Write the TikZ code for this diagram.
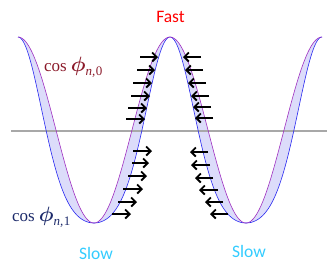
\documentclass[tikz,border=0pt]{standalone}
\usepackage[no-math]{fontspec}
\setmainfont{Carlito}
\newfontfamily\tmsfont{Liberation Serif}
\usetikzlibrary{arrows.meta}
\definecolor{lav}{HTML}{DCDCFA}
\definecolor{purp}{HTML}{A030C0}
\definecolor{bluec}{HTML}{2828F0}
\definecolor{maroon}{HTML}{8B1A2A}
\definecolor{navy}{HTML}{1C2A6A}
\definecolor{slowc}{HTML}{33CCFF}
\definecolor{axisg}{HTML}{A8A8A8}
\tikzset{
  flow/.style={line width=1.8pt,-{Straight Barb[length=4.5pt,width=9pt,line width=1.8pt]}},
  lbl/.style={inner sep=0pt,anchor=base west},
  word/.style={inner sep=0pt,anchor=base,font=\fontsize{17.5}{20}\selectfont}
}
\newcommand{\phlabel}[2]{{\tmsfont\fontsize{17}{20}\selectfont cos\hspace{4pt}}%
  {\fontsize{20}{22}\selectfont\boldmath$\phi$}%
  \raisebox{-4pt}{\tmsfont\fontsize{13}{14}\selectfont\textit{#1,}\hspace{0.5pt}#2}}
\begin{document}
\begin{tikzpicture}[x=1pt,y=-1pt]
\useasboundingbox (0,0) rectangle (327,277);
% band fill (theta in degrees, x = 18 + theta*152/360)
\fill[lav] plot[domain=0:720,samples=240] ({18+\x*0.422222},{130-93*cos(\x)})
  -- plot[domain=720:0,samples=240] ({18+\x*0.422222},{130-93*cos(\x+25.8*sin(\x))}) -- cycle;
% axis line
\draw[axisg,line width=1.3pt] (11,131) -- (327,131);
% curves
\draw[bluec,line width=0.6pt] plot[domain=0:720,samples=240] ({18+\x*0.422222},{130-93*cos(\x+25.8*sin(\x))});
\draw[purp,line width=0.6pt] plot[domain=0:720,samples=240] ({18+\x*0.422222},{130-93*cos(\x)});
% arrows left rising side (pointing right)
\foreach \a/\b/\y in {140/158/57,137/155/70,133/152/83,131/150/96,128/147/108,126/145/119,
                      133/152/151,132/149/163,128/147/176,123/143/189,118/137/202,112/131/214}
  \draw[flow] (\a,\y) -- (\b,\y);
% arrows right falling side (pointing left)
\foreach \a/\b/\y in {201/183/57,203/185/70,206/188/83,209/191/96,211/193/107,213/195/118,
                      208/190/152,210/191/165,213/195/178,218/199/190,223/205/202,228/210/214}
  \draw[flow] (\a,\y) -- (\b,\y);
% labels
\node[word,text=red] (fast) at (170.5,22) {Fast};
\node[word,text=slowc] (slowl) at (96,259) {Slow};
\node[word,text=slowc] (slowr) at (249,257) {Slow};
\node[lbl,text=maroon] (c0) at (44,71) {\phlabel{n}{0}};
\node[lbl,text=navy] (c1) at (12,221) {\phlabel{n}{1}};
\end{tikzpicture}
\end{document}
